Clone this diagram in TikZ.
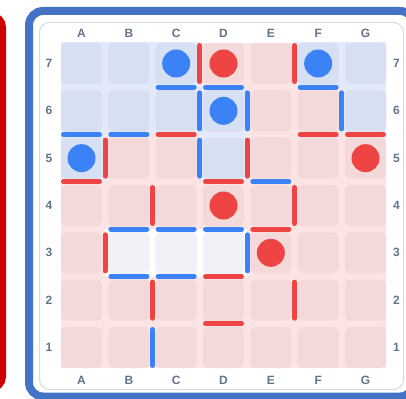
\documentclass[tikz,border=0pt]{standalone}
\usepackage{fontspec}
\setmainfont{Liberation Sans}
\definecolor{frameblue}{RGB}{68,114,196}
\definecolor{framered}{RGB}{204,0,0}
\definecolor{wblue}{RGB}{59,130,246}
\definecolor{wred}{RGB}{239,68,68}
\definecolor{cellblue}{RGB}{214,224,242}
\definecolor{bgblue}{RGB}{225,233,250}
\definecolor{cellpink}{RGB}{243,217,217}
\definecolor{bgpink}{RGB}{253,228,228}
\definecolor{cellgrey}{RGB}{241,242,245}
\definecolor{labgrey}{RGB}{100,116,139}
\definecolor{panelborder}{RGB}{214,217,222}
\begin{document}
\begin{tikzpicture}[x=1pt,y=-1pt,
  lab/.style={text=labgrey,font=\fontsize{12}{13}\selectfont\bfseries,inner sep=0pt},
  wallb/.style={draw=wblue,line width=5pt,line cap=round},
  wallr/.style={draw=wred,line width=5pt,line cap=round},
  discb/.style={fill=wblue},
  discr/.style={fill=wred},
  cellb/.style={fill=cellblue},
  cellp/.style={fill=cellpink},
  cellg/.style={fill=cellgrey},
  bgb/.style={fill=bgblue},
  bgg/.style={fill=white}]
\def\p{47.333}
\def\s{41}
\def\g{6.333}
\def\ox{61}
\def\oy{43}
\useasboundingbox (0,0) rectangle (406,398);
\clip (0,0) rectangle (406,398);
% left red frame (cut off)
\draw[framered,line width=7pt,rounded corners=12pt] (-60,15.5) rectangle (2.5,388.5);
% blue frame
\draw[frameblue,line width=8pt,rounded corners=14pt] (29,11) rectangle (414,396.5);
% inner panel
\draw[panelborder,fill=white,line width=1pt,rounded corners=10pt] (39.5,22.5) rectangle (403.5,389.5);
% board background
\begin{scope}
\clip (\ox,\oy) rectangle ({\ox+6*\p+\s},{\oy+6*\p+\s});
\fill[bgpink] (\ox,\oy) rectangle ({\ox+6*\p+\s},{\oy+6*\p+\s});
\foreach \i/\j/\t in {0/0/b,1/0/b,2/0/b,5/0/b,6/0/b,0/1/b,1/1/b,2/1/b,3/1/b,6/1/b,0/2/b,3/2/b,1/4/g,2/4/g,3/4/g}
  \fill[bg\t] ({\ox+\i*\p-\g/2},{\oy+\j*\p-\g/2}) rectangle +(\p,\p);
\end{scope}
% cells
\foreach \i in {0,...,6}
  \foreach \j in {0,...,6}
    \fill[cellp,rounded corners=5pt] ({\ox+\i*\p},{\oy+\j*\p}) rectangle +(\s,\s);
\foreach \i/\j/\t in {0/0/b,1/0/b,2/0/b,5/0/b,6/0/b,0/1/b,1/1/b,2/1/b,3/1/b,6/1/b,0/2/b,3/2/b,1/4/g,2/4/g,3/4/g}
  \fill[cell\t,rounded corners=5pt] ({\ox+\i*\p},{\oy+\j*\p}) rectangle +(\s,\s);
% horizontal walls: column / boundary / colour
\foreach \i/\k/\c in {2/1/b,3/1/b,5/1/b,5/2/r,6/2/r,0/2/b,1/2/b,2/2/r,0/3/r,3/3/r,4/3/b,1/4/b,2/4/b,3/4/b,4/4/r,1/5/b,2/5/b,3/5/r,3/6/r}
  \draw[wall\c] ({\ox+\i*\p+2.5},{\oy+\k*\p-\g/2}) -- ++(\s-5,0);
% vertical walls: boundary / row / colour
\foreach \k/\j/\c in {3/0/r,5/0/r,3/1/b,4/1/b,6/1/b,1/2/r,3/2/b,4/2/r,2/3/r,5/3/r,1/4/r,4/4/b,2/5/r,5/5/r,2/6/b}
  \draw[wall\c] ({\ox+\k*\p-\g/2},{\oy+\j*\p+2.5}) -- ++(0,\s-5);
% discs
\foreach \i/\j/\c in {2/0/b,3/0/r,5/0/b,3/1/b,0/2/b,6/2/r,3/3/r,4/4/r}
  \fill[disc\c] ({\ox+\i*\p+\s/2},{\oy+\j*\p+\s/2}) circle (14);
% labels
\foreach \L [count=\i from 0] in {A,B,C,D,E,F,G} {
  \node[lab] (top\L) at ({\ox+\i*\p+\s/2},33) {\L};
  \node[lab] (bot\L) at ({\ox+\i*\p+\s/2},380) {\L};
}
\foreach \r [count=\j from 0] in {7,6,5,4,3,2,1} {
  \node[lab] (left\r) at (49,{\oy+\j*\p+\s/2}) {\r};
  \node[lab] (right\r) at (396.5,{\oy+\j*\p+\s/2}) {\r};
}
\end{tikzpicture}
\end{document}
